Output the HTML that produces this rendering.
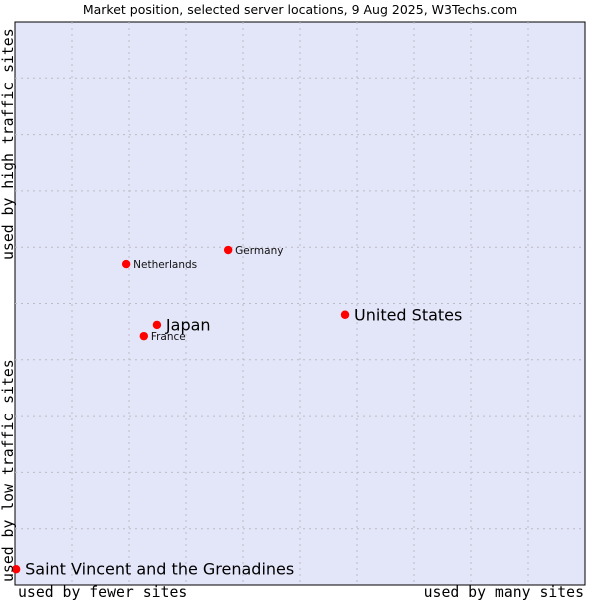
<!DOCTYPE html>
<html><head><meta charset="utf-8"><style>
body{margin:0;background:#fff}
svg{display:block}
</style></head><body>
<svg id="chart" width="600" height="600" xmlns="http://www.w3.org/2000/svg">
<text x="300" y="14" text-anchor="middle" font-family="DejaVu Sans, sans-serif" font-size="12.5" fill="#000">Market position, selected server locations, 9 Aug 2025, W3Techs.com</text>
<rect x="15" y="22" width="570" height="563" fill="#e3e5f8" stroke="#000" stroke-width="1"/>
<g id="grid"></g>
<g id="points"></g>
<text transform="translate(13,260) rotate(-90)" font-family="DejaVu Sans Mono, monospace" font-size="14.8" fill="#000">used by high traffic sites</text>
<text transform="translate(13,582) rotate(-90)" font-family="DejaVu Sans Mono, monospace" font-size="14.8" fill="#000">used by low traffic sites</text>
<text x="18" y="597" font-family="DejaVu Sans Mono, monospace" font-size="14.8" fill="#000">used by fewer sites</text>
<text x="584" y="597" text-anchor="end" font-family="DejaVu Sans Mono, monospace" font-size="14.8" fill="#000">used by many sites</text>
</svg>
<script>
const names=["Saint Vincent and the Grenadines","Japan","France","Netherlands","Germany","United States"];
const xVals=[0.2,24.9,22.6,19.5,37.4,57.9];
const yVals=[2.8,46.2,44.2,57.0,59.5,48.0];
const big=[true,true,false,false,false,true];
const L=15,R=585,T=22,B=585;
const sx=v=>L+(R-L)*v/100, sy=v=>B-(B-T)*v/100;
const NS="http://www.w3.org/2000/svg";
const grid=document.getElementById('grid');
for(let i=1;i<10;i++){
  const v=document.createElementNS(NS,'line');
  
  
  v.setAttribute('x1',sx(i*10));v.setAttribute('x2',sx(i*10));v.setAttribute('y1',T);v.setAttribute('y2',B);
  v.setAttribute('stroke','#bcbcc4');v.setAttribute('stroke-dasharray','2,4');grid.appendChild(v);
  const h=document.createElementNS(NS,'line');
  
  
  h.setAttribute('y1',sy(i*10));h.setAttribute('y2',sy(i*10));h.setAttribute('x1',L);h.setAttribute('x2',R);
  h.setAttribute('stroke','#bcbcc4');h.setAttribute('stroke-dasharray','2,4');grid.appendChild(h);
}
const pts=document.getElementById('points');
names.forEach((n,i)=>{
  const x=sx(xVals[i]),y=sy(yVals[i]);
  const c=document.createElementNS(NS,'circle');
  
  
  c.setAttribute('cx',x);c.setAttribute('cy',y);c.setAttribute('r',4.2);c.setAttribute('fill','#ff0000');
  pts.appendChild(c);
  const t=document.createElementNS(NS,'text');
  
  
  t.setAttribute('x',x+(big[i]?9:7));t.setAttribute('y',y+(big[i]?5.5:4));
  t.setAttribute('font-family','DejaVu Sans, sans-serif');
  t.setAttribute('font-size',big[i]?'16':'10.5');
  t.setAttribute('fill',big[i]?'#000':'#111');
  t.textContent=n;pts.appendChild(t);
});
</script>
</body></html>
